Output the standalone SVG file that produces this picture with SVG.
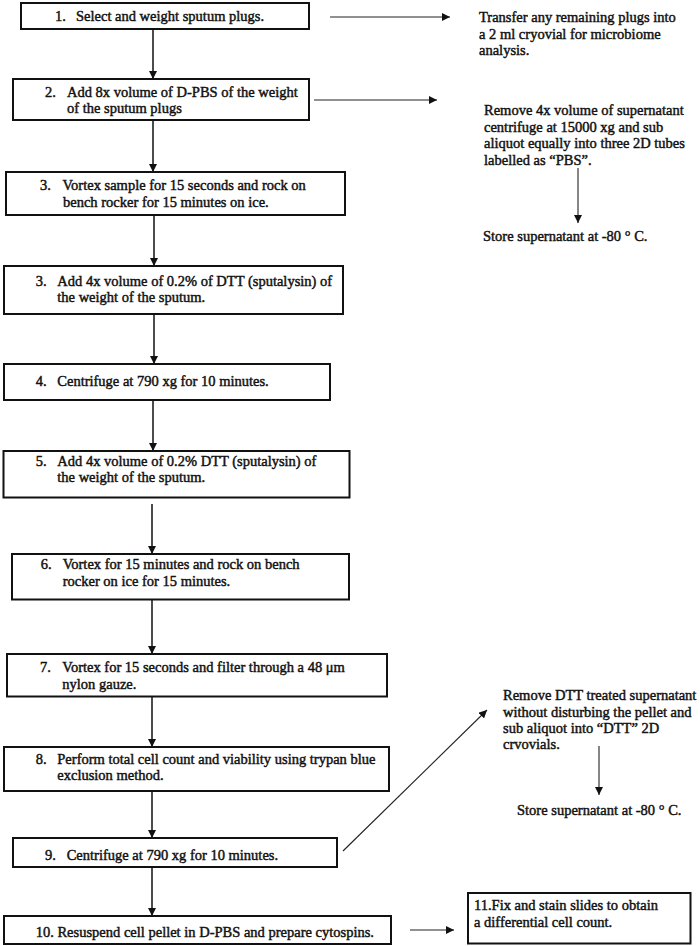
<svg xmlns="http://www.w3.org/2000/svg" width="700" height="946" viewBox="0 0 700 946">
<style>
.box{fill:#fff;stroke:#111;stroke-width:2}
text{font-family:"Liberation Serif","Times New Roman",serif;font-size:14.5px;fill:#111;stroke:#111;stroke-width:0.45}
.c{fill:none;stroke:#111;stroke-width:1.5}
.t{fill:none;stroke:#222;stroke-width:1.1}
</style>
<defs>
<marker id="ah" markerUnits="userSpaceOnUse" markerWidth="9" markerHeight="8" refX="8" refY="4" orient="auto">
<path d="M0,0 L8,4 L0,8 Z" fill="#111"/>
</marker>
</defs>
<rect width="700" height="946" fill="#fff"/>
<g id="connectors">
<line class="c" x1="153" y1="29" x2="153" y2="79" marker-end="url(#ah)"/>
<line class="c" x1="153" y1="120" x2="153" y2="172" marker-end="url(#ah)"/>
<line class="c" x1="154" y1="215" x2="154" y2="266" marker-end="url(#ah)"/>
<line class="c" x1="154" y1="314" x2="154" y2="364" marker-end="url(#ah)"/>
<line class="c" x1="153" y1="400" x2="153" y2="451" marker-end="url(#ah)"/>
<line class="c" x1="152" y1="504" x2="152" y2="554" marker-end="url(#ah)"/>
<line class="c" x1="152" y1="600" x2="152" y2="654" marker-end="url(#ah)"/>
<line class="c" x1="152" y1="697" x2="152" y2="747" marker-end="url(#ah)"/>
<line class="c" x1="152" y1="791" x2="152" y2="838" marker-end="url(#ah)"/>
<line class="c" x1="152" y1="867" x2="152" y2="916" marker-end="url(#ah)"/>
<line class="t" x1="330" y1="17" x2="450" y2="17" marker-end="url(#ah)"/>
<line class="t" x1="314" y1="100" x2="437" y2="100" marker-end="url(#ah)"/>
<line class="t" x1="578" y1="168" x2="578" y2="223" marker-end="url(#ah)"/>
<line class="t" x1="343" y1="851" x2="487" y2="710" marker-end="url(#ah)"/>
<line class="t" x1="599" y1="746" x2="599" y2="795" marker-end="url(#ah)"/>
<line class="t" x1="410" y1="930" x2="454" y2="930" marker-end="url(#ah)"/>
</g>
<g id="n1"><rect class="box" x="21" y="3" width="288" height="26"/>
<text x="55" y="21">1.</text><text x="76" y="21">Select and weight sputum plugs.</text></g>
<g id="n2"><rect class="box" x="13" y="79" width="296" height="41"/>
<text x="45" y="97">2.</text><text x="67" y="97">Add 8x volume of D-PBS of the weight</text><text x="67" y="113">of the sputum plugs</text></g>
<g id="n3"><rect class="box" x="6" y="172" width="339" height="43"/>
<text x="40" y="190">3.</text><text x="62.5" y="190">Vortex sample for 15 seconds and rock on</text><text x="63" y="207">bench rocker for 15 minutes on ice.</text></g>
<g id="n3b"><rect class="box" x="4" y="266" width="339" height="48"/>
<text x="35.7" y="285.7">3.</text><text x="57.3" y="285.7">Add 4x volume of 0.2% of DTT (sputalysin) of</text><text x="57.3" y="302">the weight of the sputum.</text></g>
<g id="n4"><rect class="box" x="4" y="364" width="326" height="36"/>
<text x="35.7" y="386">4.</text><text x="57.3" y="386">Centrifuge at 790 xg for 10 minutes.</text></g>
<g id="n5"><rect class="box" x="3.5" y="451" width="346" height="46.5"/>
<text x="35.7" y="465.5">5.</text><text x="57.3" y="465.5">Add 4x volume of 0.2% DTT (sputalysin) of</text><text x="57.3" y="482">the weight of the sputum.</text></g>
<g id="n6"><rect class="box" x="12" y="554" width="337" height="45.5"/>
<text x="40.7" y="569">6.</text><text x="62.7" y="569">Vortex for 15 minutes and rock on bench</text><text x="62.7" y="586">rocker on ice for 15 minutes.</text></g>
<g id="n7"><rect class="box" x="7" y="654" width="380" height="42.5"/>
<text x="40" y="672">7.</text><text x="62.3" y="672">Vortex for 15 seconds and filter through a 48 μm</text><text x="62.3" y="688.5">nylon gauze.</text></g>
<g id="n8"><rect class="box" x="4" y="747" width="385" height="44"/>
<text x="35.7" y="763.5">8.</text><text x="57.3" y="763.5">Perform total cell count and viability using trypan blue</text><text x="57.3" y="780">exclusion method.</text></g>
<g id="n9"><rect class="box" x="13" y="838" width="324" height="29"/>
<text x="45" y="860">9.</text><text x="66.7" y="860">Centrifuge at 790 xg for 10 minutes.</text></g>
<g id="n10"><rect class="box" x="4" y="916" width="387" height="28"/>
<text x="35.7" y="936.5">10. Resuspend cell pellet in D-PBS and prepare cytospins.</text></g>
<g id="n11"><rect class="box" x="468" y="893" width="222.5" height="50.5"/>
<text x="474" y="909.5">11.Fix and stain slides to obtain</text><text x="474" y="927">a differential cell count.</text></g>
<g id="r1"><text x="479" y="22">Transfer any remaining plugs into</text><text x="479" y="38.5">a 2 ml cryovial for microbiome</text><text x="479" y="55">analysis.</text></g>
<g id="r2"><text x="484" y="115">Remove 4x volume of supernatant</text><text x="484" y="131.5">centrifuge at 15000 xg and sub</text><text x="484" y="148">aliquot equally into three 2D tubes</text><text x="484" y="164.5">labelled as “PBS”.</text></g>
<g id="r3"><text x="483" y="241">Store supernatant at -80 ° C.</text></g>
<g id="r4"><text x="503" y="700">Remove DTT treated supernatant</text><text x="503" y="716.5">without disturbing the pellet and</text><text x="503" y="733">sub aliquot into “DTT” 2D</text><text x="503" y="749">crvovials.</text></g>
<g id="r5"><text x="517" y="815">Store supernatant at -80 ° C.</text></g>
</svg>
